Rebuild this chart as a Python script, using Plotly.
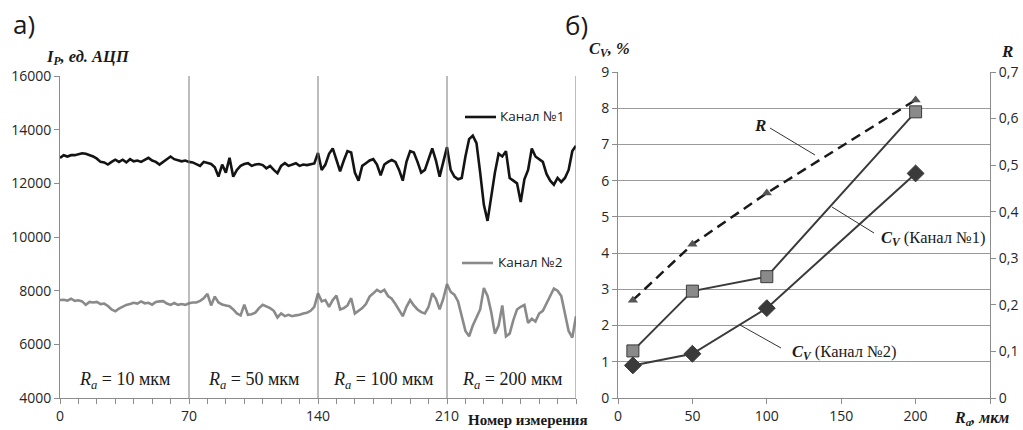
import plotly.graph_objects as go

W, H = 1023, 430


def px(x):
    return x / W


def py(y):
    return 1 - y / H


# ---------------- data: panel a) ----------------
meas = list(range(0, 281, 2))  # measurement number (every 2nd reading)

ch1 = [
    # 0..68
    12950, 13050, 13000, 13050, 13050, 13100, 13120, 13100, 13050, 13000,
    12920, 12800, 12780, 12700, 12800, 12880, 12800, 12880, 12780, 12900,
    12820, 12850, 12800, 12880, 12950, 12850, 12800, 12700, 12800, 12900,
    13000, 12900, 12850, 12820, 12850,
    # 70..138
    12800, 12780, 12700, 12650, 12800, 12750, 12720, 12600, 12250, 12700,
    12400, 12950, 12250, 12500, 12650, 12720, 12750, 12650, 12700, 12720,
    12680, 12560, 12650, 12500, 12380, 12650, 12750, 12650, 12700, 12750,
    12650, 12700, 12680, 12700, 12740,
    # 140..208
    13130, 12500, 12700, 13100, 13300, 12900, 12450, 12850, 13200, 13150,
    12400, 12100, 12650, 12750, 12850, 12900, 12700, 12300, 12700, 12800,
    12870, 12800, 12500, 12100, 12800, 13200, 13150, 12800, 12400, 12500,
    12900, 13300, 12850, 12250, 12800,
    # 210..280
    13350, 12500, 12250, 12150, 12200, 13000, 13650, 13780, 13500, 12400,
    11200, 10600, 11500, 12400, 13100, 13000, 13200, 12200, 12100, 12000,
    11300, 12150, 12500, 13300, 13000, 12900, 12800, 12350, 12100, 11950,
    12200, 12050, 12200, 12500, 13200, 13400,
]

ch2 = [
    # 0..68
    7650, 7660, 7630, 7700, 7620, 7640, 7600, 7470, 7580, 7560,
    7580, 7500, 7520, 7430, 7300, 7230, 7330, 7400, 7470, 7500,
    7550, 7520, 7600, 7530, 7550, 7480, 7580, 7600, 7610, 7520,
    7470, 7540, 7470, 7500, 7470,
    # 70..138
    7530, 7560, 7560, 7620, 7720, 7880, 7450, 7780, 7560, 7480,
    7450, 7420, 7300, 7150, 7080, 7480, 7100, 7120, 7180, 7350,
    7470, 7420, 7350, 7250, 7000, 7150, 7050, 7100, 7050, 7080,
    7100, 7150, 7180, 7250, 7400,
    # 140..208
    7900, 7600, 7650, 7400, 7650, 7820, 7300, 7350, 7450, 7720,
    7150, 7250, 7350, 7500, 7780, 7900, 8030, 7950, 8030, 7800,
    7700, 7500, 7250, 7050, 7400, 7650, 7450, 7300, 7200, 7150,
    7400, 7900, 7700, 7300, 7700,
    # 210..280
    8250, 7950, 7850, 7600, 7040, 6500, 6300, 6700, 7000, 7300,
    8100, 7800, 7200, 6400, 6700, 7450, 6300, 6400, 6900, 7300,
    7400, 7470, 6800, 6950, 6850, 7150, 7250, 7500, 7800, 8080,
    8000, 7800, 7200, 6500, 6250, 7050,
]

segment_bounds = [0, 70, 140, 210, 280]
segment_ra = ["10", "50", "100", "200"]
left_yticks = [4000, 6000, 8000, 10000, 12000, 14000, 16000]
left_xticks = [0, 70, 140, 210]

# ---------------- data: panel б) ----------------
ra = [10, 50, 100, 200]
cv1 = [1.3, 2.95, 3.35, 7.9]
cv2 = [0.9, 1.22, 2.48, 6.2]
r_corr = [0.21, 0.33, 0.44, 0.64]
cv_ticks = list(range(0, 10))
r_ticks = [0, 0.1, 0.2, 0.3, 0.4, 0.5, 0.6, 0.7]
r_labels = ["0", "0,1", "0,2", "0,3", "0,4", "0,5", "0,6", "0,7"]
ra_ticks = [0, 50, 100, 150, 200]

SANS = "Open Sans"
SERIF = "Liberation Serif"
AXC = "#8c8c8c"
TICKF = dict(size=14, family=SANS, color="#262626")

fig = go.Figure()

fig.add_trace(go.Scatter(x=meas, y=ch2, mode="lines", xaxis="x", yaxis="y",
                         line=dict(color="#8a8a8a", width=2.6), showlegend=False))
fig.add_trace(go.Scatter(x=meas, y=ch1, mode="lines", xaxis="x", yaxis="y",
                         line=dict(color="#141414", width=2.6), showlegend=False))

fig.add_trace(go.Scatter(x=ra, y=r_corr, mode="lines+markers", xaxis="x2", yaxis="y3",
                         line=dict(color="#1a1a1a", width=2.5, dash="10px,6px"),
                         marker=dict(symbol="triangle-up", size=9, color="#555555"),
                         showlegend=False))
fig.add_trace(go.Scatter(x=ra, y=cv1, mode="lines+markers", xaxis="x2", yaxis="y2",
                         line=dict(color="#3a3a3a", width=2),
                         marker=dict(symbol="square", size=12, color="#8a8a8a",
                                     line=dict(color="#3a3a3a", width=1)),
                         showlegend=False))
fig.add_trace(go.Scatter(x=ra, y=cv2, mode="lines+markers", xaxis="x2", yaxis="y2",
                         line=dict(color="#3a3a3a", width=2),
                         marker=dict(symbol="diamond", size=13, color="#3a3a3a",
                                     line=dict(color="#3a3a3a", width=1)),
                         showlegend=False))

shapes = []
# segment separators in panel a)
for b in segment_bounds[1:]:
    shapes.append(dict(type="line", xref="x", yref="y", x0=b, x1=b,
                       y0=left_yticks[0], y1=left_yticks[-1],
                       line=dict(color="#7a7a7a", width=1)))
# legend samples
shapes.append(dict(type="line", xref="paper", yref="paper", x0=px(465), x1=px(496),
                   y0=py(117), y1=py(117), line=dict(color="#141414", width=2.6)))
shapes.append(dict(type="line", xref="paper", yref="paper", x0=px(462), x1=px(493),
                   y0=py(263), y1=py(263), line=dict(color="#8a8a8a", width=2.6)))
# leader lines panel б)
for (x0, y0, x1, y1) in [(770, 128, 815, 155), (832, 207, 874, 233), (740, 325, 781, 348)]:
    shapes.append(dict(type="line", xref="paper", yref="paper", x0=px(x0), y0=py(y0),
                       x1=px(x1), y1=py(y1), line=dict(color="#333333", width=1)))

ann = []


def text(x, y, t, size, family, xa="left", ya="middle", color="#1a1a1a"):
    ann.append(dict(x=px(x), y=py(y), xref="paper", yref="paper", text=t, showarrow=False,
                    xanchor=xa, yanchor=ya, font=dict(size=size, family=family, color=color)))


text(11, 24, "а)", 26, SANS)
text(563, 25, "б)", 26, SANS)
text(44, 57, "<b><i>I<sub>P</sub>, ед. АЦП</i></b>", 16.5, SERIF)
text(587, 49, "<b><i>C<sub>V</sub></i></b><b><i>, %</i></b>", 16.5, SERIF)
text(999, 51, "<b><i>R</i></b>", 17, SERIF)
text(952, 418, "<b><i>R<sub>a</sub>, мкм</i></b>", 16, SERIF)
text(466, 420, "<b>Номер измерения</b>", 15, SERIF)
text(498, 116, "Канал №1", 13.5, SANS)
text(496, 262, "Канал №2", 13.5, SANS)
text(752, 125, "<b><i>R</i></b>", 17, SERIF)
text(879, 238, "<b><i>C<sub>V</sub></i></b> (Канал №1)", 16.5, SERIF)
text(790, 352, "<b><i>C<sub>V</sub></i></b> (Канал №2)", 16.5, SERIF)

for i, lab in enumerate(segment_ra):
    xc = (segment_bounds[i] + segment_bounds[i + 1]) / 2
    ann.append(dict(x=xc, y=py(380), xref="x", yref="paper", showarrow=False,
                    text="<i>R<sub>a</sub></i> = " + lab + " мкм", xanchor="center",
                    yanchor="middle", font=dict(size=18, family=SERIF, color="#1a1a1a")))

fig.update_layout(
    width=W, height=H, autosize=False,
    margin=dict(l=0, r=0, t=0, b=0, pad=0),
    paper_bgcolor="white", plot_bgcolor="white",
    showlegend=False,
    xaxis=dict(domain=[px(60), px(576)], range=[0, 280], anchor="y", automargin=False,
               tickmode="array", tickvals=left_xticks, ticktext=[str(v) for v in left_xticks],
               ticks="outside", ticklen=5, tickcolor=AXC,
               minor=dict(dtick=10, tick0=0, ticks="outside", ticklen=5, tickcolor=AXC, showgrid=False),
               showgrid=False, zeroline=False,
               showline=True, linecolor=AXC, linewidth=1, tickfont=TICKF),
    yaxis=dict(domain=[py(398), py(76)], range=[4000, 16000], anchor="x", automargin=False,
               tickmode="array", tickvals=left_yticks, ticktext=[str(v) for v in left_yticks],
               ticks="outside", ticklen=5, tickcolor=AXC, showgrid=False, zeroline=False,
               showline=True, linecolor=AXC, linewidth=1, tickfont=TICKF),
    xaxis2=dict(domain=[px(618), px(990)], range=[0, 250], anchor="y2", automargin=False,
                tickmode="array", tickvals=ra_ticks, ticktext=[str(v) for v in ra_ticks],
                ticks="outside", ticklen=5, tickcolor=AXC,
                minor=dict(dtick=50, tick0=0, ticks="outside", ticklen=5, tickcolor=AXC, showgrid=False),
                showgrid=False, zeroline=False,
                showline=True, linecolor=AXC, linewidth=1, tickfont=TICKF),
    yaxis2=dict(domain=[py(398), py(72)], range=[0, 9], anchor="x2", automargin=False,
                tickmode="array", tickvals=cv_ticks, ticktext=[str(v) for v in cv_ticks],
                ticks="outside", ticklen=5, tickcolor=AXC, showgrid=True, gridcolor="#9a9a9a",
                gridwidth=1, zeroline=False, showline=True, linecolor=AXC, linewidth=1,
                tickfont=TICKF),
    yaxis3=dict(overlaying="y2", side="right", anchor="x2", range=[0, 0.7], automargin=False,
                tickmode="array", tickvals=r_ticks, ticktext=r_labels,
                ticks="outside", ticklen=5, tickcolor=AXC, showgrid=False, zeroline=False,
                showline=True, linecolor=AXC, linewidth=1, tickfont=TICKF),
    shapes=shapes,
    annotations=ann,
)

fig.write_html(
    "out.html",
    config={"displayModeBar": False, "responsive": False},
    post_script="document.body.style.margin='0';document.body.style.overflow='hidden';",
)
